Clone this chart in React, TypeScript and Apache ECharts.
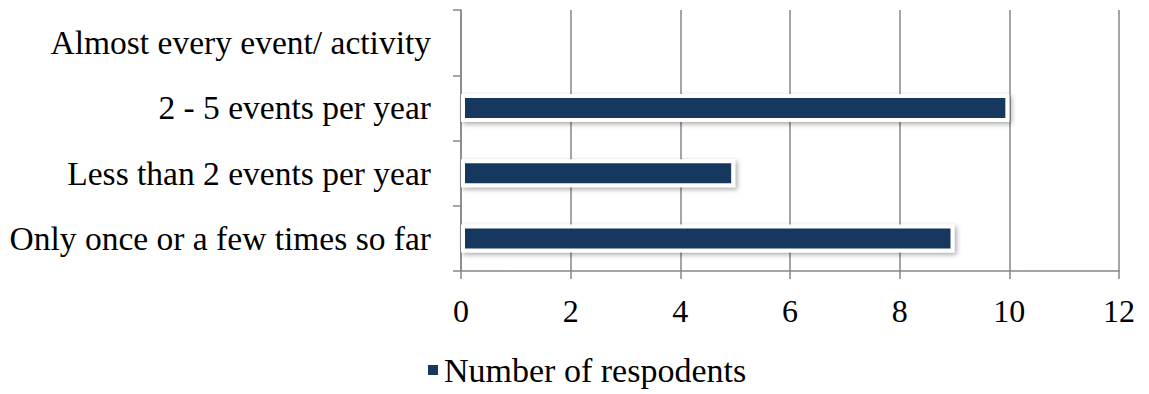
import React, { useEffect, useRef } from "react";
import * as echarts from "echarts";

const categories = [
  "Only once or a few times so far",
  "Less than 2 events per year",
  "2 - 5 events per year",
  "Almost every event/ activity",
];
const respondents = [9, 5, 10, 0];
const seriesName = "Number of respodents";
const xMin = 0;
const xMax = 12;
const xStep = 2;

const FONT = "'Liberation Serif', 'DejaVu Serif', serif";
const GRID_COLOR = "#878787";
const BAR_COLOR = "#17375e";

export default function App() {
  const ref = useRef<HTMLDivElement>(null);

  useEffect(() => {
    if (!ref.current) return;
    const chart = echarts.init(ref.current, undefined, { renderer: "svg" });
    chart.setOption({
      animation: false,
      grid: { left: 461, right: 30, top: 10, bottom: 123, containLabel: false },
      legend: {
        show: true,
        top: 348,
        left: 421,
        icon: "rect",
        itemWidth: 12,
        itemHeight: 12,
        itemGap: 8,
        textStyle: { fontFamily: FONT, fontSize: 34, color: "#000" },
        data: [seriesName],
      },
      xAxis: {
        type: "value",
        min: xMin,
        max: xMax,
        interval: xStep,
        axisLine: { show: true, lineStyle: { color: GRID_COLOR, width: 1.5 } },
        axisTick: { show: true, length: 8, lineStyle: { color: GRID_COLOR, width: 1.5 } },
        splitLine: { show: true, lineStyle: { color: GRID_COLOR, width: 1.5 } },
        axisLabel: { fontFamily: FONT, fontSize: 32, color: "#000", margin: 24 },
      },
      yAxis: {
        type: "category",
        data: categories,
        axisLine: { show: true, lineStyle: { color: GRID_COLOR, width: 1.5 } },
        axisTick: { show: true, length: 8, alignWithLabel: false, lineStyle: { color: GRID_COLOR, width: 1.5 } },
        axisLabel: { fontFamily: FONT, fontSize: 33.5, color: "#000", margin: 30 },
      },
      series: [
        {
          name: seriesName,
          type: "bar",
          data: respondents,
          barWidth: 28,
          itemStyle: {
            color: BAR_COLOR,
            borderColor: "#ffffff",
            borderWidth: 4,
            shadowColor: "rgba(0,0,0,0.35)",
            shadowBlur: 5,
            shadowOffsetX: 2,
            shadowOffsetY: 2,
          },
        },
      ],
    });
    return () => chart.dispose();
  }, []);

  return (
    <div
      ref={ref}
      style={{ position: "fixed", left: 0, top: 0, width: 1149, height: 394, background: "#fff" }}
    />
  );
}
